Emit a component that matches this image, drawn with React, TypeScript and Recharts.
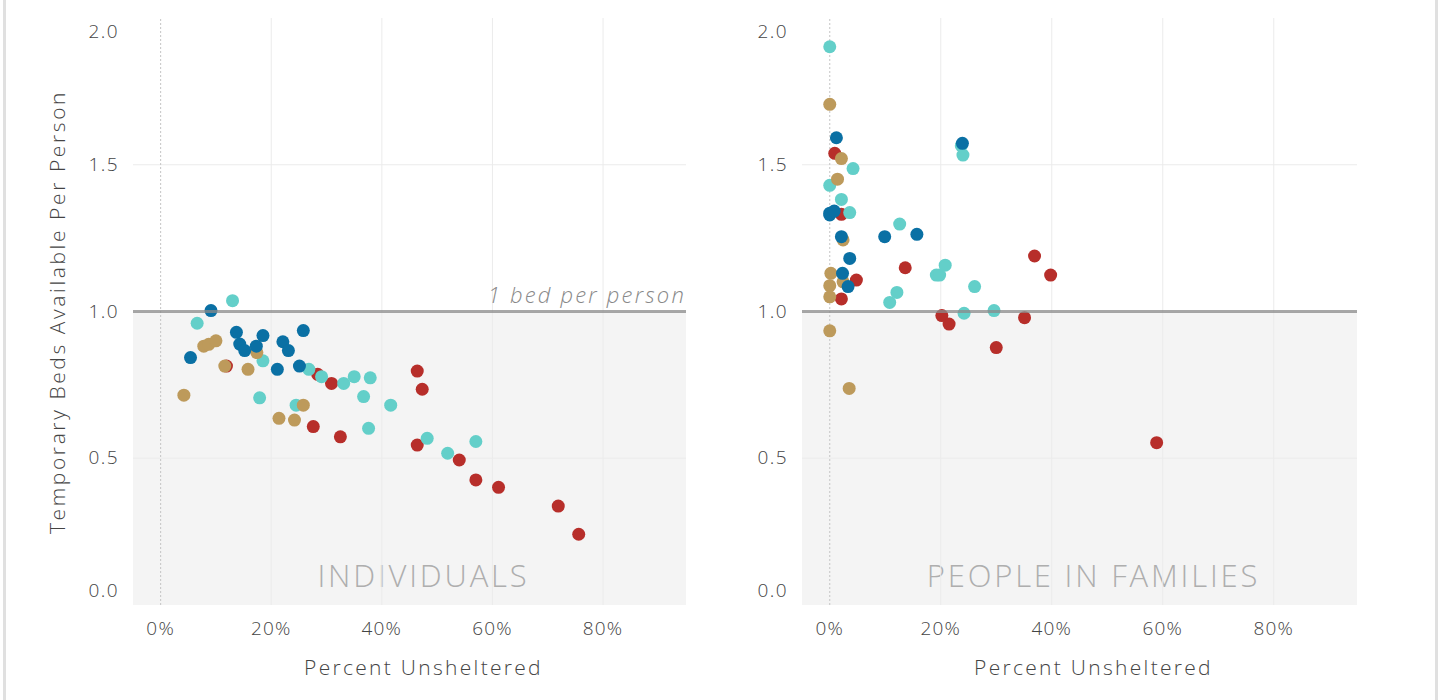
import {
    ScatterChart,
    Scatter,
    XAxis,
    YAxis,
    ReferenceArea,
    ReferenceLine,
    Label,
} from 'recharts';

type Pair = [number, number];

// x = percent unsheltered, y = temporary beds available per person
const individualsRed: Pair[] = [
    [11.9, 0.814], [28.4, 0.786], [30.9, 0.755], [27.6, 0.608], [32.5, 0.573],
    [46.4, 0.797], [47.3, 0.735], [46.4, 0.545], [54.0, 0.494], [57.0, 0.426],
    [61.1, 0.401], [71.9, 0.337], [75.6, 0.241],
];
const individualsTeal: Pair[] = [
    [13.0, 1.037], [6.6, 0.96], [18.5, 0.832], [26.8, 0.803], [29.1, 0.778],
    [33.1, 0.755], [35.0, 0.778], [37.9, 0.774], [36.7, 0.71], [41.6, 0.681],
    [17.9, 0.706], [24.5, 0.681], [37.6, 0.602], [48.2, 0.568], [51.9, 0.517],
    [57.0, 0.557],
];
const individualsTan: Pair[] = [
    [7.8, 0.882], [8.7, 0.888], [10.0, 0.9], [11.6, 0.814], [15.8, 0.803],
    [17.4, 0.86], [4.2, 0.715], [25.8, 0.681], [21.4, 0.636], [24.2, 0.63],
];
const individualsBlue: Pair[] = [
    [9.1, 1.003], [13.7, 0.929], [18.5, 0.918], [25.8, 0.935], [14.3, 0.889],
    [15.2, 0.867], [17.3, 0.882], [22.1, 0.897], [23.1, 0.867], [5.4, 0.843],
    [21.1, 0.803], [25.1, 0.814],
];

const familiesRed: Pair[] = [
    [0.9, 1.539], [2.1, 1.331], [13.6, 1.149], [4.8, 1.107], [2.1, 1.043],
    [20.2, 0.986], [21.5, 0.957], [36.9, 1.189], [39.8, 1.124], [35.1, 0.979],
    [30.0, 0.877], [58.9, 0.553],
];
const familiesTeal: Pair[] = [
    [0, 1.902], [4.2, 1.487], [0, 1.43], [2.1, 1.382], [3.6, 1.337],
    [12.6, 1.298], [10.8, 1.031], [12.1, 1.065], [19.2, 1.124], [19.8, 1.124],
    [20.8, 1.158], [26.1, 1.085], [24.2, 0.994], [29.6, 1.003], [23.7, 1.565],
    [24.0, 1.533],
];
const familiesTan: Pair[] = [
    [0, 1.706], [2.1, 1.521], [1.4, 1.451], [2.4, 1.244], [0.2, 1.13],
    [2.4, 1.101], [0, 1.088], [0, 1.05], [0, 0.934], [3.5, 0.738],
];
const familiesBlue: Pair[] = [
    [1.2, 1.592], [0, 1.329], [0, 1.335], [0.8, 1.342], [2.1, 1.255],
    [9.9, 1.255], [15.7, 1.263], [3.6, 1.181], [2.3, 1.13], [3.3, 1.085],
    [23.9, 1.573],
];

const xTicks = [0, 20, 40, 60, 80];
const yTicks = [0, 0.5, 1, 1.5, 2];
const xGrid = [20, 40, 60, 80];
const yGrid = [0.5, 1.5];

const COLORS = { red: '#b72e2a', teal: '#63cfc9', tan: '#bd9a5b', blue: '#0a70a4' };
const FONT = "'Open Sans', sans-serif";
const TEXT = '#444';

const toPoints = (arr: Pair[]) => arr.map(([x, y]) => ({ x, y }));

const Dot = (props: any) => <circle cx={props.cx} cy={props.cy} r={6.5} fill={props.fill} />;

const YTick = ({ x, y, payload }: any) => {
    let dy = 6;
    if (payload.value === 2) dy = 20;
    if (payload.value === 0) dy = -8;
    return (
        <text x={x} y={y} dy={dy} textAnchor="end" fontSize={19} letterSpacing={1.4} fill={TEXT} fontFamily={FONT} fontWeight={300}>
            {Number(payload.value).toFixed(1)}
        </text>
    );
};

const XTick = ({ x, y, payload }: any) => (
    <text x={x} y={y} dy={30} textAnchor="middle" fontSize={19} letterSpacing={1.2} fill={TEXT} fontFamily={FONT} fontWeight={300}>
        {`${payload.value}%`}
    </text>
);

interface PanelProps {
    title: string;
    red: Pair[];
    teal: Pair[];
    tan: Pair[];
    blue: Pair[];
    yAxisWidth: number;
    marginRight: number;
    showYTitle?: boolean;
    showBedLabel?: boolean;
}

function Panel({ title, red, teal, tan, blue, yAxisWidth, marginRight, showYTitle, showBedLabel }: PanelProps) {
    return (
        <ScatterChart width={720} height={700} margin={{ top: 18, right: marginRight, bottom: 0, left: 0 }}>
            <XAxis
                type="number"
                dataKey="x"
                domain={[-5, 95]}
                ticks={xTicks}
                tick={<XTick />}
                tickSize={0}
                tickMargin={0}
                axisLine={false}
                height={95}
                allowDataOverflow
            >
                <Label
                    content={({ viewBox }: any) => (
                        <text
                            x={viewBox.x + viewBox.width / 2 + 14}
                            y={viewBox.y + 70}
                            textAnchor="middle"
                            fontSize={21}
                            letterSpacing={2.3}
                            fill={TEXT}
                            fontFamily={FONT}
                            fontWeight={300}
                        >
                            Percent Unsheltered
                        </text>
                    )}
                />
            </XAxis>
            <YAxis
                type="number"
                dataKey="y"
                domain={[0, 2]}
                ticks={yTicks}
                tick={<YTick />}
                tickSize={0}
                tickMargin={14}
                axisLine={false}
                width={yAxisWidth}
                allowDataOverflow
            >
                {showYTitle && (
                    <Label
                        content={() => (
                            <text
                                x={57}
                                y={312}
                                transform="rotate(-90 57 312)"
                                textAnchor="middle"
                                dominantBaseline="central"
                                fontSize={21}
                                letterSpacing={2.6}
                                fill={TEXT}
                                fontFamily={FONT}
                                fontWeight={300}
                            >
                                Temporary Beds Available Per Person
                            </text>
                        )}
                    />
                )}
            </YAxis>
            <ReferenceArea x1={-5} x2={95} y1={0} y2={1} fill="#f4f4f4" fillOpacity={1} stroke="none">
                <Label
                    content={({ viewBox }: any) => (
                        <text
                            x={viewBox.x + viewBox.width / 2 + 14}
                            y={viewBox.y + viewBox.height - 18}
                            textAnchor="middle"
                            fontSize={31}
                            letterSpacing={2.8}
                            fill="#aeaeae"
                            fontFamily={FONT}
                            fontWeight={300}
                        >
                            {title}
                        </text>
                    )}
                />
            </ReferenceArea>
            {xGrid.map((v) => (
                <ReferenceLine key={`gx-${v}`} x={v} stroke="#ebebeb" strokeWidth={1} />
            ))}
            {yGrid.map((v) => (
                <ReferenceLine key={`gy-${v}`} y={v} stroke="#ebebeb" strokeWidth={1} />
            ))}
            <ReferenceLine x={0} stroke="#c4c4c4" strokeWidth={1} strokeDasharray="2 2" />
            <Scatter data={toPoints(red)} fill={COLORS.red} shape={<Dot />} isAnimationActive={false} />
            <Scatter data={toPoints(teal)} fill={COLORS.teal} shape={<Dot />} isAnimationActive={false} />
            <Scatter data={toPoints(tan)} fill={COLORS.tan} shape={<Dot />} isAnimationActive={false} />
            <Scatter data={toPoints(blue)} fill={COLORS.blue} shape={<Dot />} isAnimationActive={false} />
            <ReferenceLine y={1} stroke="#8a8a8a" strokeOpacity={0.75} strokeWidth={3} zIndex={700}>
                {showBedLabel && (
                    <Label
                        content={({ viewBox }: any) => (
                            <text
                                x={viewBox.x + viewBox.width}
                                y={viewBox.y - 9}
                                textAnchor="end"
                                fontSize={22}
                                letterSpacing={2.2}
                                fontStyle="italic"
                                fill="#888"
                                fontFamily={FONT}
                                fontWeight={300}
                            >
                                1 bed per person
                            </text>
                        )}
                    />
                )}
            </ReferenceLine>
        </ScatterChart>
    );
}

export default function App() {
    return (
        <div
            style={{
                position: 'absolute',
                left: 0,
                top: 0,
                width: 1440,
                height: 700,
                background: '#fff',
                overflow: 'hidden',
            }}
        >
            <div style={{ position: 'absolute', left: 3, top: 0, width: 3, height: 700, background: '#e0e0e0' }} />
            <div style={{ position: 'absolute', left: 1435, top: 0, width: 3, height: 700, background: '#e0e0e0' }} />
            <div style={{ position: 'absolute', left: 0, top: 0 }}>
                <Panel
                    title="INDIVIDUALS"
                    red={individualsRed}
                    teal={individualsTeal}
                    tan={individualsTan}
                    blue={individualsBlue}
                    yAxisWidth={133}
                    marginRight={34}
                    showYTitle
                    showBedLabel
                />
            </div>
            <div style={{ position: 'absolute', left: 720, top: 0 }}>
                <Panel
                    title="PEOPLE IN FAMILIES"
                    red={familiesRed}
                    teal={familiesTeal}
                    tan={familiesTan}
                    blue={familiesBlue}
                    yAxisWidth={82}
                    marginRight={83}
                />
            </div>
        </div>
    );
}
